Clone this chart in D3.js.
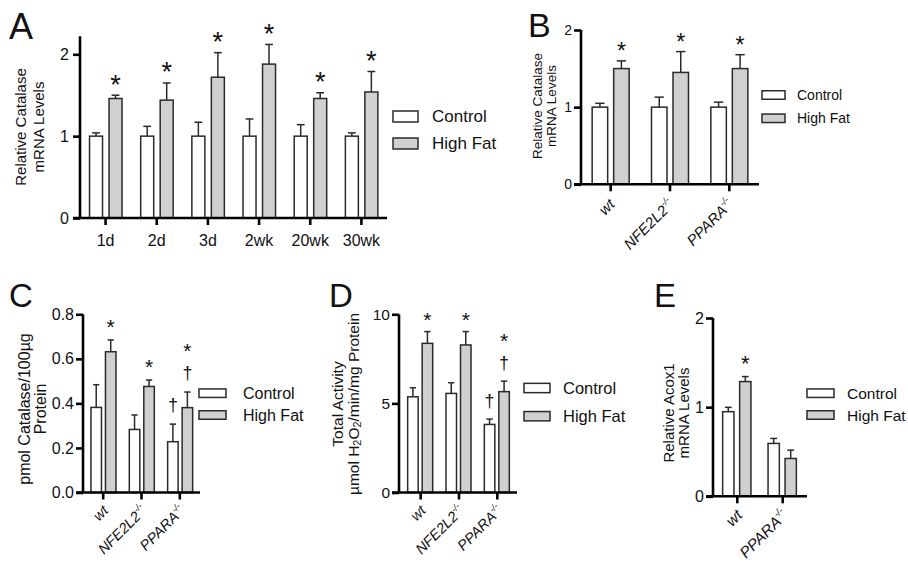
<!DOCTYPE html>
<html><head><meta charset="utf-8">
<script src="https://cdn.jsdelivr.net/npm/d3@7"></script>
<style>
body{margin:0;background:#fff}
svg{display:block}
text{font-family:"Liberation Sans",Arial,Helvetica,sans-serif;fill:#111}
</style>
</head><body>
<svg id="c" width="908" height="564"></svg>
<script>
// ---------------- DATA ----------------
const seriesNames = ["Control", "High Fat"];

// Panel A
const categoriesA = ["1d", "2d", "3d", "2wk", "20wk", "30wk"];
const controlA = [1, 1, 1, 1, 1, 1];
const controlErrA = [0.04, 0.12, 0.17, 0.21, 0.14, 0.04];
const highFatA = [1.46, 1.44, 1.72, 1.88, 1.46, 1.54];
const highFatErrA = [0.04, 0.21, 0.30, 0.24, 0.07, 0.25];
const controlMarksA = [[], [], [], [], [], []];
const highFatMarksA = [["*"], ["*"], ["*"], ["*"], ["*"], ["*"]];
const yTicksA = [0, 1, 2];

// Panel B
const genotypesB = ["wt", "NFE2L2", "PPARA"];
const genotypeSupB = ["", "-/-", "-/-"];
const controlB = [1, 1, 1];
const controlErrB = [0.05, 0.13, 0.065];
const highFatB = [1.50, 1.45, 1.50];
const highFatErrB = [0.10, 0.27, 0.18];
const controlMarksB = [[], [], []];
const highFatMarksB = [["*"], ["*"], ["*"]];
const yTicksB = [0, 1, 2];

// Panel C
const genotypesC = ["wt", "NFE2L2", "PPARA"];
const genotypeSupC = ["", "-/-", "-/-"];
const controlC = [0.382, 0.283, 0.228];
const controlErrC = [0.102, 0.065, 0.079];
const highFatC = [0.632, 0.476, 0.381];
const highFatErrC = [0.053, 0.029, 0.070];
const controlMarksC = [[], [], ["†"]];
const highFatMarksC = [["*"], ["*"], ["†", "*"]];
const yTicksC = [0, 0.2, 0.4, 0.6, 0.8];

// Panel D
const genotypesD = ["wt", "NFE2L2", "PPARA"];
const genotypeSupD = ["", "-/-", "-/-"];
const controlD = [5.37, 5.56, 3.82];
const controlErrD = [0.51, 0.60, 0.30];
const highFatD = [8.37, 8.28, 5.66];
const highFatErrD = [0.66, 0.75, 0.59];
const controlMarksD = [[], [], ["†"]];
const highFatMarksD = [["*"], ["*"], ["†", "*"]];
const yTicksD = [0, 5, 10];

// Panel E
const genotypesE = ["wt", "PPARA"];
const genotypeSupE = ["", "-/-"];
const controlE = [0.949, 0.593];
const controlErrE = [0.049, 0.056];
const highFatE = [1.287, 0.424];
const highFatErrE = [0.056, 0.094];
const controlMarksE = [[], []];
const highFatMarksE = [["*"], []];
const yTicksE = [0, 1, 2];

// ---------------- DRAWING ----------------
const svg = d3.select("#c");
const SANS = '"Liberation Sans",Arial,Helvetica,sans-serif';
const SERIF = '"Liberation Serif","Times New Roman",Times,serif';
const FILLS = {"Control": "#ffffff", "High Fat": "#d0d0d0"};
const OUTLINE = "#2a2a2a";
const AXW = 2.6;

function drawPanel(p) {
  const g = svg.append("g");
  const x = d3.scaleBand().domain(p.categories).range(p.xRange).paddingInner(0).paddingOuter(0);
  const y = d3.scaleLinear().domain([0, p.yMax]).range([p.y0, p.yTopPx]);
  const sub = d3.scaleBand().domain(seriesNames)
    .range([-(p.barW + p.gap / 2), p.barW + p.gap / 2])
    .paddingInner(p.gap / (p.barW + p.gap)).paddingOuter(0);

  const series = [
    {name: "Control", vals: p.control, errs: p.controlErr, marks: p.controlMarks},
    {name: "High Fat", vals: p.highFat, errs: p.highFatErr, marks: p.highFatMarks}
  ];

  series.forEach(s => {
    p.categories.forEach((c, i) => {
      const cx0 = x(c) + x.bandwidth() / 2 + (p.shift || 0);
      const bx = cx0 + sub(s.name);
      const bw = sub.bandwidth();
      const v = s.vals[i], e = s.errs[i];
      const mid = bx + bw / 2;
      g.append("line").attr("x1", mid).attr("x2", mid)
        .attr("y1", y(v)).attr("y2", y(v + e))
        .attr("stroke", OUTLINE).attr("stroke-width", 1.5);
      g.append("line").attr("x1", mid - bw * 0.3).attr("x2", mid + bw * 0.3)
        .attr("y1", y(v + e)).attr("y2", y(v + e))
        .attr("stroke", OUTLINE).attr("stroke-width", 1.5);
      g.append("rect").attr("x", bx).attr("y", y(v))
        .attr("width", bw).attr("height", p.y0 - y(v))
        .attr("fill", FILLS[s.name]).attr("stroke", OUTLINE).attr("stroke-width", 1.5);
      const top = y(v + e);
      s.marks[i].forEach((m, j) => {
        const center = top - p.markGap - j * p.markStep;
        const fs = m === "*" ? p.starFs : p.daggerFs;
        const off = m === "*" ? 0.57 * fs : 0.28 * fs;
        g.append("text").attr("x", mid).attr("y", center + off)
          .attr("text-anchor", "middle").attr("font-size", fs)
          .attr("font-family", SANS).style("fill", "#111").text(m);
      });
    });
  });

  // y axis
  const yAx = g.append("g").attr("transform", `translate(${p.yAxisX},0)`)
    .call(d3.axisLeft(y).tickValues(p.yTicks).tickFormat(p.fmt || d3.format("d"))
      .tickSize(7).tickSizeOuter(0).tickPadding(p.tickPad));
  yAx.select(".domain").remove();
  yAx.selectAll(".tick line").attr("stroke", "#000").attr("stroke-width", AXW);
  yAx.selectAll(".tick text").attr("font-family", p.tickFont).attr("font-size", p.tickFs).attr("fill", "#111");
  g.append("line").attr("x1", p.yAxisX).attr("x2", p.yAxisX)
    .attr("y1", p.y0).attr("y2", y(p.axisTop))
    .attr("stroke", "#000").attr("stroke-width", AXW);

  // x axis
  const xAx = g.append("g").attr("transform", `translate(0,${p.y0})`)
    .call(d3.axisBottom(x).tickSize(7).tickSizeOuter(0).tickFormat(""));
  xAx.select(".domain").remove();
  xAx.selectAll(".tick line").attr("stroke", "#000").attr("stroke-width", AXW);
  g.append("line").attr("x1", p.yAxisX - 7).attr("x2", p.xAxisEnd)
    .attr("y1", p.y0).attr("y2", p.y0)
    .attr("stroke", "#000").attr("stroke-width", AXW);

  // x labels
  p.categories.forEach((c, i) => {
    const cx = x(c) + x.bandwidth() / 2;
    if (p.rotate) {
      const t = g.append("text")
        .attr("transform", `translate(${cx + p.xlDx},${p.y0 + p.xlDy}) rotate(-45)`)
        .attr("text-anchor", "end").attr("font-size", p.xlFs).attr("font-style", "italic");
      t.append("tspan").text(c);
      if (p.sups[i]) {
        t.append("tspan").attr("dy", -p.xlFs * 0.45).attr("font-size", p.xlFs * 0.62).text(p.sups[i]);
      }
    } else {
      g.append("text").attr("x", cx).attr("y", p.y0 + p.xlDy)
        .attr("text-anchor", "middle").attr("font-size", p.xlFs).text(c);
    }
  });

  // y label
  p.ylab.lines.forEach((ln, k) => {
    const t = g.append("text")
      .attr("transform", `translate(${p.ylab.xs[k]},${p.ylab.cy}) rotate(-90)`)
      .attr("text-anchor", "middle").attr("dominant-baseline", "central")
      .attr("font-size", p.ylab.fs);
    if (Array.isArray(ln)) {
      ln.forEach(part => {
        const ts = t.append("tspan").text(part.t);
        if (part.sub) ts.attr("font-size", p.ylab.fs * 0.7).attr("dy", p.ylab.fs * 0.25);
        if (part.back) ts.attr("dy", -p.ylab.fs * 0.25);
      });
    } else t.text(ln);
  });

  // legend
  const L = p.legend;
  seriesNames.forEach((s, k) => {
    const yy = L.ys[k];
    g.append("rect").attr("x", L.x).attr("y", yy - L.h / 2).attr("width", L.w).attr("height", L.h)
      .attr("fill", FILLS[s]).attr("stroke", OUTLINE).attr("stroke-width", 1.5);
    g.append("text").attr("x", L.tx).attr("y", yy).attr("dominant-baseline", "central")
      .attr("font-size", L.fs).text(s);
  });

  g.append("text").attr("x", p.letter.x).attr("y", p.letter.y)
    .attr("font-size", p.letter.fs).text(p.letter.t);
}

drawPanel({
  categories: categoriesA, control: controlA, controlErr: controlErrA, highFat: highFatA, highFatErr: highFatErrA,
  controlMarks: controlMarksA, highFatMarks: highFatMarksA, yTicks: yTicksA,
  xRange: [80, 387], yAxisX: 80, xAxisEnd: 387, y0: 218, yTopPx: 54.3, yMax: 2, axisTop: 2.22,
  barW: 13, gap: 6.5, shift: 0.2,
  tickFont: SANS, tickFs: 16, tickPad: 4,
  rotate: false, xlFs: 16, xlDy: 28,
  markGap: 17, markStep: 27, starFs: 27, daggerFs: 21,
  ylab: {lines: ["Relative Catalase", "mRNA Levels"], xs: [20, 38], cy: 127, fs: 15},
  legend: {x: 393, w: 25, h: 11, ys: [116.5, 143.5], tx: 432, fs: 17},
  letter: {t: "A", x: 9, y: 39, fs: 36}
});

drawPanel({
  categories: genotypesB, sups: genotypeSupB, control: controlB, controlErr: controlErrB, highFat: highFatB, highFatErr: highFatErrB,
  controlMarks: controlMarksB, highFatMarks: highFatMarksB, yTicks: yTicksB,
  xRange: [581, 759], yAxisX: 581, xAxisEnd: 759, y0: 184.3, yTopPx: 30, yMax: 2, axisTop: 2,
  barW: 15.5, gap: 6,
  tickFont: SERIF, tickFs: 14, tickPad: 2,
  rotate: true, xlFs: 15, xlDx: 5, xlDy: 21,
  markGap: 15, markStep: 27, starFs: 23, daggerFs: 20,
  ylab: {lines: ["Relative Catalase", "mRNA Levels"], xs: [537, 551], cy: 106, fs: 13.5},
  legend: {x: 762, w: 23, h: 8.5, ys: [95, 118.3], tx: 797, fs: 14},
  letter: {t: "B", x: 528, y: 37, fs: 34}
});

drawPanel({
  categories: genotypesC, sups: genotypeSupC, control: controlC, controlErr: controlErrC, highFat: highFatC, highFatErr: highFatErrC,
  controlMarks: controlMarksC, highFatMarks: highFatMarksC, yTicks: yTicksC, fmt: d3.format(".1f"),
  xRange: [84, 199], yAxisX: 83, xAxisEnd: 200, y0: 492.5, yTopPx: 314.3, yMax: 0.8, axisTop: 0.8,
  barW: 10.5, gap: 4, shift: 0.3,
  tickFont: SANS, tickFs: 16, tickPad: 2,
  rotate: true, xlFs: 14.5, xlDx: 6, xlDy: 19,
  markGap: 18, markStep: 28, starFs: 21, daggerFs: 18,
  ylab: {lines: ["pmol Catalase/100\u00b5g", "Protein"], xs: [24, 40], cy: 409, fs: 16},
  legend: {x: 199, w: 27, h: 8.5, ys: [393.2, 415], tx: 243, fs: 16},
  letter: {t: "C", x: 9, y: 307, fs: 33}
});

drawPanel({
  categories: genotypesD, sups: genotypeSupD, control: controlD, controlErr: controlErrD, highFat: highFatD, highFatErr: highFatErrD,
  controlMarks: controlMarksD, highFatMarks: highFatMarksD, yTicks: yTicksD,
  xRange: [401.5, 516.5], yAxisX: 399, xAxisEnd: 517, y0: 492.5, yTopPx: 314.3, yMax: 10, axisTop: 10,
  barW: 10.5, gap: 4, shift: -0.5,
  tickFont: SANS, tickFs: 15.5, tickPad: 2,
  rotate: true, xlFs: 14.5, xlDx: 6, xlDy: 19,
  markGap: 17, markStep: 28, starFs: 21, daggerFs: 18,
  ylab: {lines: ["Total Activity", [{t: "\u00b5mol H"}, {t: "2", sub: true}, {t: "O", back: true}, {t: "2", sub: true}, {t: "/min/mg Protein", back: true}]],
         xs: [337, 353], cy: 404, fs: 15.5},
  legend: {x: 524, w: 26, h: 9.3, ys: [388, 416.2], tx: 563, fs: 16.5},
  letter: {t: "D", x: 329, y: 307, fs: 33}
});

drawPanel({
  categories: genotypesE, sups: genotypeSupE, control: controlE, controlErr: controlErrE, highFat: highFatE, highFatErr: highFatErrE,
  controlMarks: controlMarksE, highFatMarks: highFatMarksE, yTicks: yTicksE,
  xRange: [714.6, 805.4], yAxisX: 713, xAxisEnd: 807, y0: 496.3, yTopPx: 318, yMax: 2, axisTop: 2,
  barW: 11.3, gap: 5.7, shift: -0.5,
  tickFont: SERIF, tickFs: 16, tickPad: 2,
  rotate: true, xlFs: 15.5, xlDx: 6, xlDy: 20,
  markGap: 18, markStep: 28, starFs: 22, daggerFs: 18,
  ylab: {lines: ["Relative Acox1", "mRNA Levels"], xs: [668, 683], cy: 413, fs: 15},
  legend: {x: 807, w: 27, h: 8.5, ys: [393.2, 415], tx: 847, fs: 15.5},
  letter: {t: "E", x: 654, y: 307, fs: 33}
});
</script>
</body></html>
